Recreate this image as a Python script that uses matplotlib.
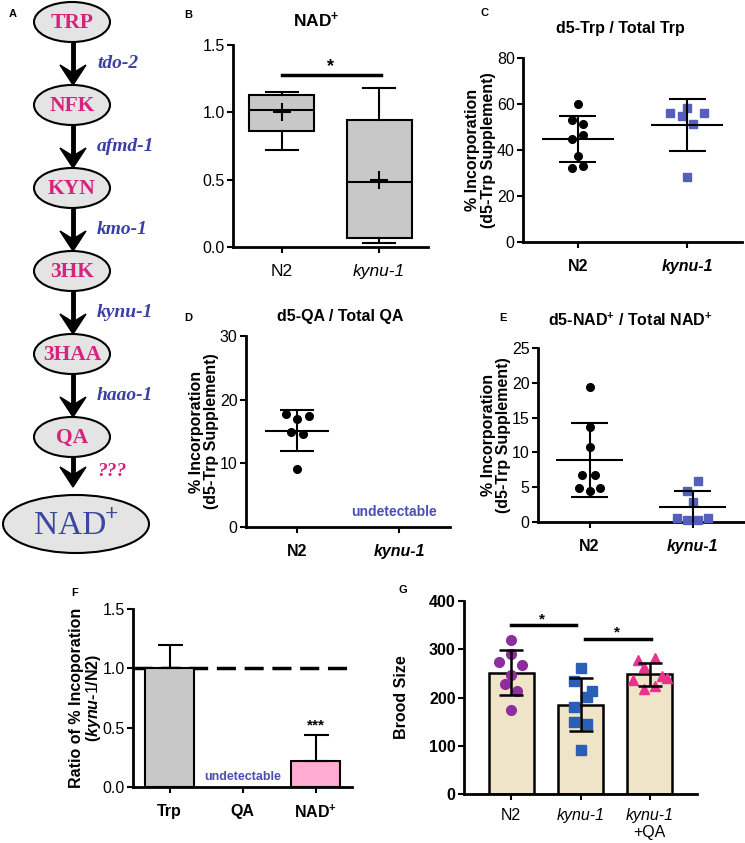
import numpy as np
import matplotlib
matplotlib.use('Agg')
import matplotlib.pyplot as plt
from matplotlib.patches import Ellipse, Polygon
from matplotlib.transforms import blended_transform_factory

W, H = 745, 843

plt.rcParams['font.family'] = ['Liberation Sans', 'DejaVu Sans']
plt.rcParams['mathtext.fontset'] = 'custom'
plt.rcParams['mathtext.rm'] = 'Liberation Sans'
plt.rcParams['mathtext.bf'] = 'Liberation Sans:bold'
plt.rcParams['mathtext.it'] = 'Liberation Sans:italic:bold'

# ---------------- data ----------------
pathway = ['TRP', 'NFK', 'KYN', '3HK', '3HAA', 'QA']
enzymes = ['tdo-2', 'afmd-1', 'kmo-1', 'kynu-1', 'haao-1', '???']

strains = ['N2', 'kynu-1']

# B: relative NAD+ levels (box stats)
nad_box = [
    dict(med=1.02, q1=0.86, q3=1.13, whislo=0.72, whishi=1.15, mean=1.00, fliers=[]),
    dict(med=0.48, q1=0.07, q3=0.94, whislo=0.03, whishi=1.18, mean=0.50, fliers=[]),
]

# C: d5-Trp / total Trp (%)
trp_n2 = [60, 53, 51.5, 46.5, 45, 37.5, 32, 33]
trp_n2_jit = [0, -0.05, 0.05, 0.05, -0.05, 0, -0.05, 0.05]
trp_kynu = [56, 54.8, 58.3, 56, 51.3, 28.3]
trp_kynu_jit = [-0.155, -0.045, 0, 0.155, 0.055, 0]

# D: d5-QA / total QA (%), kynu-1 undetectable
qa_n2 = [17.7, 16.9, 17.4, 15.0, 14.6, 9.1]
qa_n2_jit = [-0.11, 0, 0.115, -0.055, 0.055, 0]

# E: d5-NAD+ / total NAD+ (%)
nad_n2 = [19.4, 13.7, 10.8, 6.7, 6.7, 4.9, 4.5, 4.9]
nad_n2_jit = [0, 0, 0, -0.07, 0.05, -0.105, 0, 0.1]
nad_kynu = [5.9, 4.5, 2.9, 0.6, 0.3, 0.3, 0.6]
nad_kynu_jit = [0.055, -0.05, 0, -0.15, -0.05, 0.055, 0.155]

# F: ratio of incorporation kynu-1/N2
ratio_cats = ['Trp', 'QA', 'NAD$^{\\mathbf{+}}$']
ratio_vals = [1.00, np.nan, 0.22]
ratio_sd = [0.20, np.nan, 0.22]

# G: brood size
brood_cats = ['N2', 'kynu-1', 'kynu-1']
brood_n2 = [319, 291, 273, 267.5, 247, 228.5, 212.5, 174]
brood_n2_jit = [0, 0, -0.17, 0.16, 0, -0.09, 0.08, 0]
brood_kynu = [261, 235, 214, 201.5, 180, 150, 145, 91]
brood_kynu_jit = [0, -0.09, 0.17, 0.09, -0.09, -0.09, 0.09, 0]
brood_qa = [278.5, 281, 263, 245, 240, 235.5, 217.5, 223]
brood_qa_jit = [-0.17, 0.08, -0.09, 0.17, 0.25, -0.25, -0.09, 0.08]

fig = plt.figure(figsize=(W / 100, H / 100), dpi=100)


def px_axes(left, right, top, bottom):
    return fig.add_axes([left / W, 1 - bottom / H, (right - left) / W, (bottom - top) / H])


def ftext(x, y, s, **kw):
    fig.text(x / W, 1 - y / H, s, **kw)


def style(ax):
    for s in ['top', 'right']:
        ax.spines[s].set_visible(False)
    for s in ['left', 'bottom']:
        ax.spines[s].set_linewidth(2)
    ax.tick_params(width=1.5, length=4, labelsize=11.5)
    ax.tick_params(axis='x', pad=8)
    ax.tick_params(axis='y', pad=2)


def dot_group(ax, i, vals, jit, marker, color, ms, half_mean, half_cap):
    vals = np.array(vals)
    ax.plot(i + np.array(jit), vals, ls='none', marker=marker, color=color, ms=ms,
            mec=color, zorder=3, clip_on=False)
    mu, sd = vals.mean(), vals.std(ddof=1)
    ax.hlines(mu, i - half_mean, i + half_mean, color='k', lw=1.5, zorder=4)
    ax.vlines(i, mu - sd, mu + sd, color='k', lw=1.5, zorder=4)
    ax.hlines([mu - sd, mu + sd], i - half_cap, i + half_cap, color='k', lw=1.5, zorder=4)


pink = '#d6247e'
gene_blue = '#3b3fa5'
sq_blue = '#5560bb'
undet = '#4d4db3'

# ---------------- A: pathway ----------------
axA = fig.add_axes([0, 1 - 600 / H, 160 / W, 600 / H])
axA.set_xlim(0, 160)
axA.set_ylim(600, 0)
axA.axis('off')
cx, y0, step = 72, 22, 83
ew, eh = 76, 40
for i, name in enumerate(pathway):
    y = y0 + i * step
    axA.add_patch(Ellipse((cx, y), ew, eh, facecolor='#e4e4e4', edgecolor='k', lw=1.5))
    axA.text(cx, y + 1, name, ha='center', va='center', color=pink, fontsize=15.5,
             fontweight='bold', family='Liberation Serif')
ny = y0 + len(pathway) * step + 4
axA.add_patch(Ellipse((76, ny), 146, 58, facecolor='#e4e4e4', edgecolor='k', lw=1.5))
axA.text(70, ny + 2, 'NAD', ha='center', va='center', color='#3a48a0', fontsize=24,
         family='Liberation Serif')
axA.text(112, ny - 10, '+', ha='center', va='center', color='#3a48a0', fontsize=17,
         fontweight='bold', family='Liberation Serif')
for i, gene in enumerate(enzymes):
    ytop = y0 + i * step + eh / 2
    ybot = y0 + (i + 1) * step - (eh / 2 if i < len(enzymes) - 1 else 33)
    axA.plot([cx + 1, cx + 1], [ytop, ybot - 10], color='k', lw=3.5, solid_capstyle='butt')
    axA.add_patch(Polygon([(cx + 1 - 13, ybot - 20), (cx + 1, ybot), (cx + 1 + 13, ybot - 20),
                           (cx + 1, ybot - 12)], closed=True, color='k'))
    col = pink if gene == '???' else gene_blue
    axA.text(97, (ytop + ybot) / 2, gene, ha='left', va='center', color=col, fontsize=14,
             fontweight='bold', style='italic', family='Liberation Serif')

# ---------------- B: NAD+ box plot ----------------
axB = px_axes(233, 428, 45, 247)
style(axB)
axB.bxp(nad_box, positions=[0, 1], widths=0.67, capwidths=0.33, showmeans=True,
        patch_artist=True, showfliers=False,
        boxprops=dict(facecolor='#c8c8c8', edgecolor='k', linewidth=1.5),
        medianprops=dict(color='k', linewidth=1.5),
        whiskerprops=dict(color='k', linewidth=1.5),
        capprops=dict(color='k', linewidth=1.5),
        meanprops=dict(marker='+', markersize=13, markeredgecolor='k', markeredgewidth=1.5))
axB.set_xlim(-0.5, 1.5)
axB.set_ylim(0, 1.5)
axB.set_yticks([0, 0.5, 1.0, 1.5], ['0.0', '0.5', '1.0', '1.5'])
axB.set_xticks([0, 1], strains, fontsize=12.5)
axB.get_xticklabels()[1].set_fontstyle('italic')
axB.plot([0, 1.02], [1.28, 1.28], color='k', lw=2.5, clip_on=False)
axB.text(0.5, 1.34, '*', ha='center', va='center', fontsize=13, fontweight='bold')

# ---------------- C: d5-Trp ----------------
axC = px_axes(523, 742, 58, 242)
style(axC)
dot_group(axC, 0, trp_n2, trp_n2_jit, 'o', 'k', 5.5, 0.33, 0.17)
dot_group(axC, 1, trp_kynu, trp_kynu_jit, 's', sq_blue, 5.5, 0.33, 0.17)
axC.set_xlim(-0.5, 1.5)
axC.set_ylim(0, 80)
axC.set_yticks([0, 20, 40, 60, 80])

# ---------------- D: d5-QA ----------------
axD = px_axes(246, 450, 336, 527)
style(axD)
dot_group(axD, 0, qa_n2, qa_n2_jit, 'o', 'k', 5.5, 0.31, 0.17)
axD.text(0.95, 2.4, 'undetectable', ha='center', va='center', color=undet, fontsize=10,
         fontweight='bold')
axD.set_xlim(-0.5, 1.5)
axD.set_ylim(0, 30)
axD.set_yticks([0, 10, 20, 30])

# ---------------- E: d5-NAD+ ----------------
axE = px_axes(538, 744, 348, 522)
style(axE)
dot_group(axE, 0, nad_n2, nad_n2_jit, 'o', 'k', 5.5, 0.33, 0.175)
dot_group(axE, 1, nad_kynu, nad_kynu_jit, 's', sq_blue, 5.5, 0.33, 0.175)
axE.set_xlim(-0.5, 1.5)
axE.set_ylim(0, 25)
axE.set_yticks([0, 5, 10, 15, 20, 25])

for ax, lx in [(axC, -0.125), (axD, -0.13), (axE, -0.13)]:
    ax.set_xticks([0, 1], strains, fontsize=11.5, fontweight='bold')
    ax.get_xticklabels()[1].set_fontstyle('italic')
    ax.set_ylabel('% Incorporation\n(d5-Trp Supplement)', fontsize=11.5, fontweight='bold',
                  linespacing=1.05)
    ax.yaxis.set_label_coords(lx, 0.5)

# ---------------- F: ratio ----------------
axF = px_axes(133, 352, 609, 787)
style(axF)
fx = np.arange(len(ratio_cats))
fcolors = ['#c8c8c8', 'none', '#ffabd2']
ok = ~np.isnan(ratio_vals)
axF.axhline(1.0, color='k', lw=2.5, dashes=(5.5, 2.5), zorder=1)
axF.bar(fx[ok], np.array(ratio_vals)[ok], width=0.67, color=np.array(fcolors)[ok],
        edgecolor='k', linewidth=1.5, zorder=2)
axF.errorbar(fx[ok], np.array(ratio_vals)[ok],
             yerr=[np.zeros(ok.sum()), np.array(ratio_sd)[ok]], fmt='none', ecolor='k',
             elinewidth=1.5, capsize=9, capthick=1.5, zorder=3)
axF.text(2, 0.52, '***', ha='center', va='center', fontsize=11, fontweight='bold')
axF.text(1, 0.085, 'undetectable', ha='center', va='center', color=undet, fontsize=9,
         fontweight='bold')
axF.set_xlim(-0.5, 2.5)
axF.set_ylim(0, 1.5)
axF.set_yticks([0, 0.5, 1.0, 1.5], ['0.0', '0.5', '1.0', '1.5'])
axF.set_xticks(fx, ratio_cats, fontsize=11.5, fontweight='bold')
axF.set_ylabel('Ratio of % Incoporation\n($\\mathit{kynu}$-$\\mathit{1}$/N2)', fontsize=11.5,
               fontweight='bold', linespacing=1.05)
axF.yaxis.set_label_coords(-0.135, 0.5)

# ---------------- G: brood size ----------------
axG = px_axes(464, 697, 601, 794)
style(axG)
axG.tick_params(axis='x', pad=6)
groups = [(brood_n2, brood_n2_jit, 'o', '#8e2d9e', 7),
          (brood_kynu, brood_kynu_jit, 's', '#2b5fb5', 6.5),
          (brood_qa, brood_qa_jit, '^', '#e8338c', 7.5)]
means = [np.mean(g[0]) for g in groups]
sds = [np.std(g[0], ddof=1) for g in groups]
gx = np.arange(len(groups))
axG.bar(gx, means, width=0.65, color='#efe4c8', edgecolor='k', linewidth=1.8, zorder=1)
for i, (vals, jit, m, c, ms) in enumerate(groups):
    axG.plot(i + np.array(jit), vals, ls='none', marker=m, color=c, ms=ms, zorder=2)
axG.errorbar(gx, means, yerr=sds, fmt='none', ecolor='k', elinewidth=1.8, capsize=8.5,
             capthick=1.8, zorder=3)
axG.plot([0, 0.94], [350, 350], color='k', lw=2.5, clip_on=False)
axG.text(0.44, 362, '*', ha='center', va='center', fontsize=11, fontweight='bold')
axG.plot([1.07, 2.01], [322, 322], color='k', lw=2.5, clip_on=False)
axG.text(1.52, 334, '*', ha='center', va='center', fontsize=11, fontweight='bold')
axG.set_xlim(-0.68, 2.68)
axG.set_ylim(0, 400)
axG.set_yticks([0, 100, 200, 300, 400])
for lab in axG.get_yticklabels():
    lab.set_fontweight('bold')
axG.set_xticks(gx, brood_cats, fontsize=11.5)
axG.get_xticklabels()[1].set_fontstyle('italic')
axG.get_xticklabels()[2].set_fontstyle('italic')
axG.text(2, -0.2, '+QA', transform=blended_transform_factory(axG.transData, axG.transAxes),
         ha='center', va='center', fontsize=11.5)
axG.set_ylabel('Brood Size', fontsize=11.5, fontweight='bold')
axG.yaxis.set_label_coords(-0.236, 0.5)

# ---------------- titles and panel letters ----------------
ftext(316, 20, 'NAD$^{\\mathbf{+}}$', ha='center', va='center', fontsize=12.5, fontweight='bold')
ftext(620, 28, 'd5-Trp / Total Trp', ha='center', va='center', fontsize=11.5, fontweight='bold')
ftext(340, 317, 'd5-QA / Total QA', ha='center', va='center', fontsize=11.5, fontweight='bold')
ftext(630, 320, 'd5-NAD$^{\\mathbf{+}}$ / Total NAD$^{\\mathbf{+}}$', ha='center', va='center',
      fontsize=11.5, fontweight='bold')
for letter, x, y in [('A', 13, 14), ('B', 188, 15), ('C', 485, 13), ('D', 188, 318),
                     ('E', 503, 318), ('F', 75, 593), ('G', 403, 590)]:
    ftext(x, y, letter, ha='center', va='center', fontsize=8, fontweight='bold')

fig.savefig('out.png', dpi=100)
